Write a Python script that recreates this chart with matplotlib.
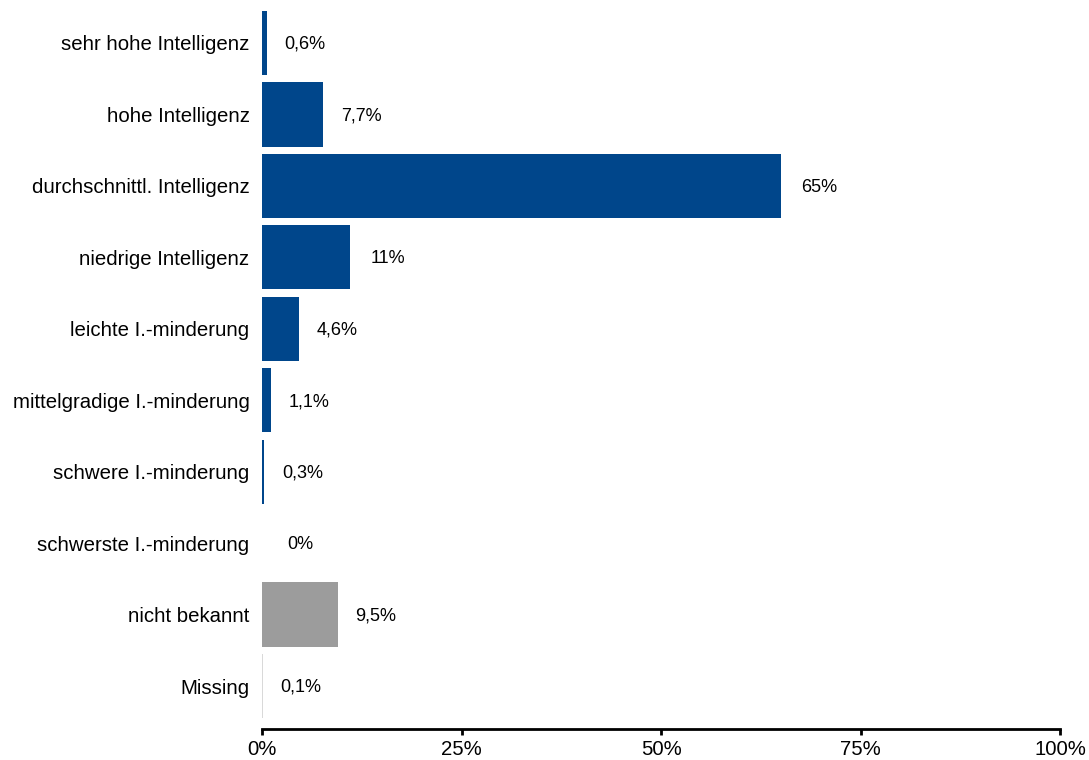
import matplotlib.pyplot as plt
from matplotlib.ticker import FuncFormatter

plt.rcParams['font.family'] = ['Liberation Sans', 'DejaVu Sans']

categories = ["sehr hohe Intelligenz", "hohe Intelligenz", "durchschnittl. Intelligenz",
              "niedrige Intelligenz", "leichte I.-minderung", "mittelgradige I.-minderung",
              "schwere I.-minderung", "schwerste I.-minderung", "nicht bekannt", "Missing"]
values = [0.6, 7.7, 65, 11, 4.6, 1.1, 0.3, 0, 9.5, 0.1]
labels = ["0,6%", "7,7%", "65%", "11%", "4,6%", "1,1%", "0,3%", "0%", "9,5%", "0,1%"]
colors = ["#00468b"] * 8 + ["#9c9c9c", "#d9d9d9"]

fig = plt.figure(figsize=(10.89, 7.6), dpi=100)
ax = fig.add_axes([0.2406, 0.0408, 0.7328, 0.9592])

y = list(range(len(categories)))
ax.barh(y, values, height=0.9, color=colors)

# value labels to the right of each bar
for yi, v, lab in zip(y, values, labels):
    ax.annotate(lab, (v, yi), xytext=(27.5, -1), textcoords="offset points",
                ha="center", va="center", fontsize=13)

ax.set_xlim(0, 100)
ax.set_ylim(9.6, -0.6)
ax.set_yticks(y)
ax.set_yticklabels(categories, fontsize=14.7)
ax.set_xticks([0, 25, 50, 75, 100])
ax.xaxis.set_major_formatter(FuncFormatter(lambda v, p: f"{v:.0f}%"))
ax.tick_params(axis="y", length=0, pad=9)
ax.tick_params(axis="x", length=4, width=2, labelsize=14.7, pad=4)

for s in ["top", "right", "left"]:
    ax.spines[s].set_visible(False)
ax.spines["bottom"].set_linewidth(2)

fig.savefig("out.png", dpi=100)
